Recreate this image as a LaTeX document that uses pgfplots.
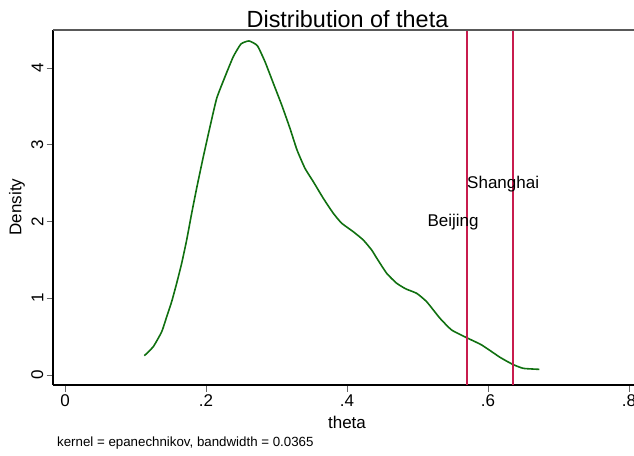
\documentclass[border=0pt]{standalone}
\usepackage{pgfplots}
\pgfplotsset{compat=1.18}
\usepackage{fontspec}
\setmainfont{Liberation Sans}
\definecolor{kgreen}{RGB}{16,112,16}
\definecolor{kred}{RGB}{200,28,78}
\begin{document}
\begin{tikzpicture}[x=1pt,y=1pt]
\useasboundingbox (0,0) rectangle (634,455);
\begin{axis}[
  at={(53pt,70pt)}, anchor=south west,
  scale only axis, width=581pt, height=355pt,
  xmin=-0.017, xmax=0.8071, ymin=-0.130, ymax=4.495,
  axis x line*=bottom, axis y line*=left,
  axis line style={black, line width=1.3pt, -},
  xtick={0,0.2,0.4,0.6,0.8}, xticklabels={0,.2,.4,.6,.8},
  ytick={0,1,2,3,4}, yticklabels={0,1,2,3,4},
  tick align=outside, major tick length=6.5pt,
  every tick/.style={black!60, line width=0.9pt},
  /pgf/number format/assume math mode=true,
  ticklabel style={font=\fontsize{17}{20}\selectfont},
  yticklabel style={rotate=90, anchor=south, inner sep=3pt},
  xticklabel style={inner sep=3pt},
  clip=false,
]
\addplot[kgreen, line width=1.6pt, smooth, tension=0.3] coordinates {
(0.1125,0.251) (0.1252,0.369) (0.1372,0.564) (0.1443,0.760) (0.1513,0.955)
(0.1584,1.195) (0.1655,1.455) (0.1726,1.759) (0.1797,2.107) (0.1868,2.436)
(0.1962,2.844) (0.2057,3.235) (0.2152,3.605) (0.2270,3.887) (0.2387,4.147)
(0.2496,4.313) (0.2610,4.352) (0.2728,4.291) (0.2837,4.082) (0.2955,3.801)
(0.3074,3.518) (0.3191,3.214) (0.3291,2.932) (0.3404,2.693) (0.3522,2.519)
(0.3664,2.302) (0.3806,2.107) (0.3925,1.977) (0.4089,1.867) (0.4231,1.759)
(0.4350,1.629) (0.4421,1.524) (0.4563,1.325) (0.4705,1.195) (0.4837,1.121)
(0.4989,1.064) (0.5130,0.955) (0.5319,0.739) (0.5485,0.586) (0.5698,0.486)
(0.5911,0.391) (0.6170,0.231) (0.6350,0.139) (0.6501,0.087) (0.6728,0.074)
};
\addplot[kred, line width=1.7pt] coordinates {(0.5706,-0.130) (0.5706,4.495)};
\addplot[kred, line width=1.7pt] coordinates {(0.6350,-0.130) (0.6350,4.495)};
\draw[black!65, line width=1.4pt] (rel axis cs:0,1) -- (rel axis cs:1,1);
\node[font=\fontsize{17}{20}\selectfont, inner sep=0pt] at (axis cs:0.5504,1.99) {Beijing};
\node[font=\fontsize{17}{20}\selectfont, inner sep=0pt] at (axis cs:0.6215,2.49) {Shanghai};
\end{axis}
\node[font=\fontsize{23.4}{26}\selectfont, anchor=base] at (347.5,427) {Distribution of theta};
\node[font=\fontsize{17}{20}\selectfont] at (347,33) {theta};
\node[font=\fontsize{17}{20}\selectfont, rotate=90] at (17,248) {Density};
\node[font=\fontsize{13.3}{16}\selectfont, anchor=west, inner sep=0pt] at (57,12) {kernel = epanechnikov, bandwidth = 0.0365};
\end{tikzpicture}
\end{document}
